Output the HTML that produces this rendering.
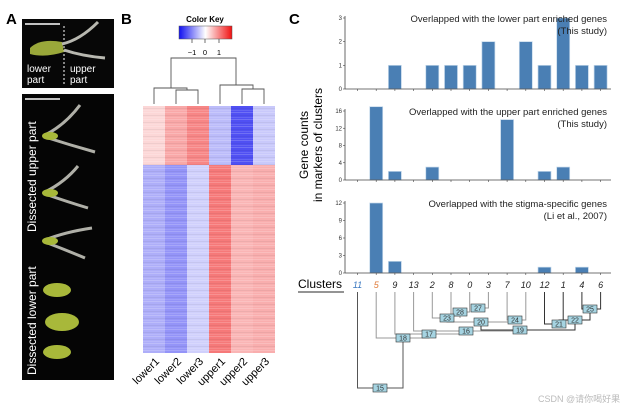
<!DOCTYPE html>
<html><head><meta charset="utf-8"><style>
html,body{margin:0;padding:0;background:#fff;width:620px;height:410px;overflow:hidden}
svg{display:block;font-family:"Liberation Sans",Arial,sans-serif}
</style></head><body>
<svg id="fig" width="620" height="410" viewBox="0 0 620 410">
<defs>
<pattern id="stripes" width="132" height="7" patternUnits="userSpaceOnUse">
<rect x="0" y="0" width="132" height="1" fill="#fff" opacity="0.18"/>
<rect x="0" y="3" width="132" height="1" fill="#000" opacity="0.05"/>
<rect x="0" y="5" width="132" height="1" fill="#fff" opacity="0.12"/>
</pattern>
<linearGradient id="ckey" x1="0" x2="1" y1="0" y2="0">
<stop offset="0" stop-color="#1010f0"/><stop offset="0.5" stop-color="#fff"/><stop offset="1" stop-color="#f01010"/>
</linearGradient>
</defs>

<!-- Panel A -->
<g>
<text x="6" y="24" font-size="15" font-weight="bold">A</text>
<rect x="22" y="19" width="92" height="69" fill="#070707"/>
<line x1="25" y1="24" x2="60" y2="24" stroke="#fff" stroke-width="1.5"/>
<line x1="64" y1="26" x2="64" y2="86" stroke="#fff" stroke-dasharray="2,2"/>
<path d="M30 48 Q40 38 62 42 L64 52 Q45 58 30 54 Z" fill="#9aa83a"/>
<path d="M62 44 Q80 40 98 22 M64 50 Q82 56 105 58" stroke="#b8b8b0" stroke-width="3" fill="none"/>
<text x="27" y="72" font-size="10" fill="#fff">lower</text><text x="27" y="83" font-size="10" fill="#fff">part</text>
<text x="70" y="72" font-size="10" fill="#fff">upper</text><text x="70" y="83" font-size="10" fill="#fff">part</text>
<rect x="22" y="94" width="92" height="286" fill="#050505"/>
<line x1="25" y1="99" x2="60" y2="99" stroke="#fff" stroke-width="1.5"/>
<g stroke="#b0b0a8" stroke-width="3" fill="none">
<path d="M45 135 Q65 125 80 105 M45 137 Q70 145 95 152"/>
<path d="M45 192 Q65 182 78 166 M45 194 Q68 202 88 208"/>
<path d="M45 240 Q65 232 92 228 M45 242 Q66 250 85 258"/>
</g>
<g fill="#a8b83a">
<ellipse cx="50" cy="136" rx="8" ry="4"/><ellipse cx="50" cy="193" rx="8" ry="4"/><ellipse cx="50" cy="241" rx="8" ry="4"/>
<ellipse cx="57" cy="290" rx="14" ry="7"/><ellipse cx="62" cy="322" rx="17" ry="9"/><ellipse cx="57" cy="352" rx="14" ry="7"/>
</g>
<text transform="translate(36,232) rotate(-90)" font-size="12" fill="#fff">Dissected upper part</text>
<text transform="translate(36,375) rotate(-90)" font-size="12" fill="#fff">Dissected lower part</text>
</g>

<!-- Panel B -->
<g>
<text x="121" y="24" font-size="15" font-weight="bold">B</text>
<text x="205" y="22" font-size="8" font-weight="bold" text-anchor="middle">Color Key</text>
<rect x="179" y="26" width="53" height="13" fill="url(#ckey)" stroke="#555" stroke-width="0.5"/>
<g stroke="#333" stroke-width="0.7"><line x1="192" y1="39" x2="192" y2="43"/><line x1="205" y1="39" x2="205" y2="43"/><line x1="219" y1="39" x2="219" y2="43"/></g>
<text x="192" y="55" font-size="7.5" text-anchor="middle">−1</text><text x="205" y="55" font-size="7.5" text-anchor="middle">0</text><text x="219" y="55" font-size="7.5" text-anchor="middle">1</text>
<g id="heatmap"></g>
<g stroke="#555" stroke-width="0.9" fill="none">
<path d="M171 88 V58 H236 V85"/>
<path d="M154 104 V88 H187 V90"/>
<path d="M176 104 V90 H198 V104"/>
<path d="M220 104 V85 H253 V89"/>
<path d="M242 104 V89 H264 V104"/>
</g>
<g id="collabels"></g>
</g>

<!-- Panel C -->
<g>
<text x="289" y="24" font-size="15" font-weight="bold">C</text>
<text transform="translate(308,145) rotate(-90)" font-size="12" text-anchor="middle">Gene counts</text>
<text transform="translate(322,145) rotate(-90)" font-size="12" text-anchor="middle">in markers of clusters</text>
<g id="charts"></g>
<text x="298" y="288" font-size="12">Clusters</text>
<line x1="298" y1="292" x2="344" y2="292" stroke="#555" stroke-width="1.2"/>
<g id="clabels"></g>
<g id="dendro"></g>
</g>
<text x="538" y="402" font-size="9" fill="#bbb" font-family="'Liberation Sans','Noto Sans CJK SC',sans-serif">CSDN @请你喝好果汁641</text>
</svg>
<script>
const NS="http://www.w3.org/2000/svg";
function mk(tag,attrs,parent){const e=document.createElementNS(NS,tag);for(const k in attrs)e.setAttribute(k,attrs[k]);parent.appendChild(e);return e;}

// Heatmap data
const samples=["lower1","lower2","lower3","upper1","upper2","upper3"];
const topBlock=[0.3,0.65,0.9,-0.5,-1.3,-0.4];
const bottomBlock=[-0.6,-0.8,-0.35,1.0,0.55,0.6];
function hcol(v){v=Math.max(-1.6,Math.min(1.6,v))/1.6;
 if(v>=0){const g=Math.round(255-(255-40)*v);return `rgb(${Math.round(255-15*v)},${g},${g})`;}
 const a=-v;const r=Math.round(255-(255-40)*a);return `rgb(${r},${r},${Math.round(255-15*a)})`;}
const hm=document.getElementById('heatmap');
const hx0=143,hw=22,hy0=106,hySplit=165,hy1=353;
samples.forEach((s,i)=>{
 const r1=mk('rect',{x:hx0+i*hw,y:hy0,width:hw,height:hySplit-hy0,fill:hcol(topBlock[i])},hm);
 
 
 const r2=mk('rect',{x:hx0+i*hw,y:hySplit,width:hw,height:hy1-hySplit,fill:hcol(bottomBlock[i])},hm);
 
 
 const t=mk('text',{transform:`translate(${hx0+i*hw+hw/2+6},${hy1+9}) rotate(-45)`,'font-size':11,'text-anchor':'end'},document.getElementById('collabels'));
 t.textContent=s;
 
 
});
mk('rect',{x:hx0,y:hy0,width:hw*6,height:hy1-hy0,fill:'url(#stripes)'},hm);

// Bar charts
const clusters=["11","5","9","13","2","8","0","3","7","10","12","1","4","6"];
const lowerVals=[0,0,1,0,1,1,1,2,0,2,1,3,1,1];
const upperVals=[0,17,2,0,3,0,0,0,14,0,2,3,0,0];
const stigmaVals=[0,12,2,0,0,0,0,0,0,0,1,0,1,0];
const lowerTicks=[0,1,2,3];
const upperTicks=[0,4,8,12,16];
const stigmaTicks=[0,3,6,9,12];
const cx0=357.5,cdx=18.7;
function xPos(i){return cx0+i*cdx;}
const charts=document.getElementById('charts');
function chart(name,vals,ticks,y0,ytop,tmax,title1,title2){
 const g=mk('g',{},charts);
 
 
 const ys=v=>y0-(v/tmax)*(y0-ytop);
 vals.forEach((v,i)=>{ if(v<=0)return;
  const b=mk('rect',{x:xPos(i)-6.5,y:ys(v),width:13,height:y0-ys(v),fill:'#4a7fb4',stroke:'#c4d8ea','stroke-width':0.7},g);
  
  
 });
 mk('line',{x1:345,y1:ytop-2,x2:345,y2:y0,stroke:'#444','stroke-width':0.8},g);
 mk('line',{x1:345,y1:y0,x2:611,y2:y0,stroke:'#444','stroke-width':0.8},g);
 clusters.forEach((c,i)=>mk('line',{x1:xPos(i),y1:y0,x2:xPos(i),y2:y0+2,stroke:'#444','stroke-width':0.6},g));
 ticks.forEach(t=>{mk('line',{x1:343,y1:ys(t),x2:345,y2:ys(t),stroke:'#444','stroke-width':0.6},g);
  const tx=mk('text',{x:342,y:ys(t)+2,'font-size':6,'text-anchor':'end',fill:'#333'},g);tx.textContent=t;});
 const t1=mk('text',{x:607,y:ytop+4,'font-size':9.5,'text-anchor':'end',fill:'#222'},g);t1.textContent=title1;
 const t2=mk('text',{x:607,y:ytop+16,'font-size':9.5,'text-anchor':'end',fill:'#222'},g);t2.textContent=title2;
}
chart('chart-lower-part',lowerVals,lowerTicks,89,18,3,'Overlapped with the lower part enriched genes','(This study)');
chart('chart-upper-part',upperVals,upperTicks,180,111,16,'Overlapped with the upper part enriched genes','(This study)');
chart('chart-stigma',stigmaVals,stigmaTicks,273,203,12,'Overlapped with the stigma-specific genes','(Li et al., 2007)');

const cl=document.getElementById('clabels');
clusters.forEach((c,i)=>{
 const t=mk('text',{x:xPos(i),y:288,'font-size':9,'font-style':'italic','text-anchor':'middle',fill:c==="11"?'#3a78c0':(c==="5"?'#e07b39':'#222')},cl);
 t.textContent=c;
 
 
});

// Dendrogram of clusters
const dd=document.getElementById('dendro');
const ln=(d,c)=>mk('path',{d:d,stroke:c||'#999',fill:'none','stroke-width':1},dd);
const X=i=>xPos(i);
ln(`M${X(6)} 292 V312 H460`);ln(`M${X(7)} 292 V308 H478`);
ln(`M${X(5)} 292 V316 H460 V312`,'#999');
ln(`M${X(4)} 292 V318 H447`);ln(`M460 314 V318`);
ln(`M${X(8)} 292 V320 H${X(9)} V292`);
ln(`M447 318 V322 H515 V320`);
ln(`M${X(12)} 292 V309 H${X(13)} V292`,'#333');
ln(`M${X(10)} 292 V324 H${X(11)} V292`,'#333');
ln(`M559 324 V320 H590 V309`,'#333');
ln(`M481 322 V330 H575 V320`,'#333');
ln(`M${X(3)} 292 V331 H520 V330`);
ln(`M${X(2)} 292 V334 H466 V331`);
ln(`M${X(1)} 292 V338 H429 V334`);
ln(`M${X(0)} 292 V388 H403 V338`,'#555');
const nodes=[["27",478,308],["28",460,312],["23",447,318],["24",515,320],["20",481,322],["25",590,309],["22",575,320],["21",559,324],["19",520,330],["16",466,331],["17",429,334],["18",403,338],["15",380,388]];
nodes.forEach(n=>{
 const r=mk('rect',{x:n[1]-7,y:n[2]-4,width:14,height:8,fill:'#a6d4e2',stroke:'#333','stroke-width':0.6},dd);
 
 
 const t=mk('text',{x:n[1],y:n[2]+2.5,'font-size':7,'text-anchor':'middle',fill:'#333'},dd);t.textContent=n[0];
});
</script>
</body></html>
